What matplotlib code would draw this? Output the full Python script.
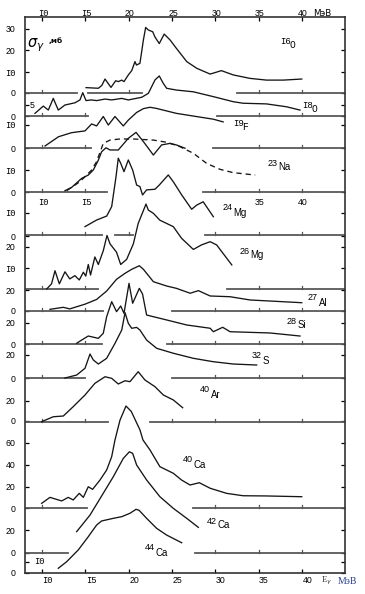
import matplotlib
matplotlib.use("Agg")
import matplotlib.pyplot as plt
import numpy as np

W, H = 365, 594
# ---------------- data (energy MeV, cross-section mb) ----------------
O16_E = [15.08, 16.5, 16.9, 17.27, 17.96, 18.5, 18.8, 19.2, 19.46, 19.96, 20.35, 20.73, 20.9, 21.3, 21.7, 21.96, 22.27, 22.77, 23.04, 23.53, 24.1, 24.77, 25.5, 26.7, 27.85, 29.4, 30.7, 32.07, 34.0, 35.9, 37.84, 39.97]
O16_S = [2.5, 2.2, 3.5, 6.5, 2.6, 5.7, 5.3, 6.0, 5.3, 8.4, 10.4, 14.6, 13.0, 13.8, 24.7, 30.5, 29.3, 28.5, 26.0, 23.0, 27.4, 24.7, 20.8, 14.6, 11.5, 8.8, 10.4, 8.4, 6.8, 6.0, 6.0, 6.5]

O18_E = [9.19, 10.15, 10.73, 11.3, 11.88, 12.65, 13.8, 14.38, 14.7, 15.08, 15.7, 16.3, 17.27, 18.04, 19.2, 19.96, 21.5, 22.27, 23.04, 23.53, 24.0, 24.38, 25.5, 27.46, 29.77, 32.07, 33.2, 35.9, 38.2, 39.77]
O18_S = [1.2, 4.5, 2.7, 8.0, 2.7, 5.0, 6.0, 7.3, 10.6, 7.0, 7.3, 7.0, 7.7, 7.3, 8.0, 7.3, 8.5, 10.3, 16.4, 18.2, 14.8, 12.6, 11.8, 11.0, 8.8, 6.5, 5.8, 5.5, 4.2, 2.7]

F19_E = [10.35, 11.9, 13.4, 14.96, 15.73, 16.3, 17.07, 17.65, 18.42, 19.38, 19.96, 20.92, 21.7, 22.46, 23.2, 25.5, 27.46, 29.77, 30.9]
F19_S = [0.9, 5.0, 6.8, 7.6, 10.7, 9.8, 14.0, 10.2, 14.0, 9.8, 12.4, 15.8, 17.5, 18.1, 17.6, 15.4, 14.2, 12.8, 11.6]

Na23_E = [12.65, 13.42, 14.58, 15.34, 15.92, 16.5, 16.88, 17.38, 17.85, 18.8, 19.96, 20.85, 21.7, 22.85, 23.8, 24.77, 25.5, 26.5]
Na23_S = [0.6, 2.1, 6.2, 7.7, 10.0, 14.5, 18.3, 20.1, 19.1, 19.1, 24.4, 27.1, 22.9, 16.8, 21.4, 22.1, 21.4, 19.9]
Na23b_E = [12.85, 14.38, 15.73, 16.3, 17.07, 17.85, 19.0, 20.54, 22.85, 24.4, 25.92, 27.46, 29.0, 30.54, 32.07, 34.6]
Na23b_S = [0.6, 4.7, 10.0, 13.8, 22.1, 23.6, 24.1, 24.1, 23.6, 22.6, 20.6, 17.6, 13.0, 10.3, 8.8, 7.7]

Mg24_E = [14.96, 16.3, 17.46, 18.04, 18.54, 18.8, 19.08, 19.46, 19.96, 20.46, 20.92, 21.3, 21.6, 22.07, 23.04, 23.53, 24.57, 25.15, 26.12, 27.27, 27.85, 28.6, 29.77]
Mg24_S = [3.8, 6.8, 8.6, 12.9, 26.5, 34.9, 32.6, 28.8, 34.1, 29.5, 22.7, 22.0, 18.2, 20.5, 20.8, 22.7, 27.3, 24.2, 18.2, 11.7, 13.6, 15.1, 8.3]

Mg26_E = [10.54, 11.1, 11.5, 12.0, 12.65, 13.2, 13.8, 14.3, 14.77, 15.05, 15.34, 15.6, 16.1, 16.5, 17.07, 17.5, 17.85, 18.6, 19.08, 19.77, 20.54, 21.1, 22.0, 22.27, 22.85, 23.6, 25.15, 26.1, 27.46, 28.4, 29.4, 30.15, 31.9]
Mg26_S = [0.0, 2.4, 8.5, 2.4, 8.0, 4.7, 6.2, 4.2, 7.8, 6.0, 11.4, 6.5, 14.9, 11.4, 17.8, 24.9, 21.0, 17.1, 11.4, 13.8, 21.0, 30.5, 39.5, 36.7, 35.2, 32.0, 29.0, 23.6, 18.4, 20.5, 22.0, 20.5, 11.2]

Al27_E = [10.92, 12.46, 13.2, 14.96, 16.3, 16.88, 17.46, 18.6, 19.58, 20.35, 21.23, 21.7, 22.85, 24.38, 25.5, 27.1, 28.04, 29.4, 31.7, 34.0, 36.3, 39.97]
Al27_S = [1.6, 3.5, 2.0, 6.5, 11.0, 15.0, 19.0, 30.2, 35.9, 39.7, 43.1, 39.7, 27.9, 23.8, 21.6, 16.9, 19.4, 14.3, 13.6, 10.5, 9.5, 7.9]

Si28_E = [14.0, 14.58, 15.34, 16.5, 17.07, 17.46, 18.04, 18.6, 19.08, 19.46, 20.04, 20.46, 21.23, 21.6, 22.07, 22.85, 24.38, 26.7, 29.4, 29.77, 30.85, 31.7, 34.0, 36.3, 39.77]
Si28_S = [0.7, 3.8, 7.6, 5.4, 10.2, 26.0, 40.3, 30.8, 36.2, 29.2, 57.8, 38.8, 53.0, 47.6, 27.6, 26.0, 22.9, 18.1, 15.0, 11.7, 15.9, 11.7, 11.1, 10.5, 7.6]

S32_E = [12.65, 14.0, 14.96, 15.54, 15.92, 16.5, 17.46, 18.42, 19.2, 19.58, 19.96, 20.35, 20.92, 21.3, 22.07, 23.23, 25.15, 27.46, 29.77, 32.07, 34.77]
S32_S = [0.0, 2.7, 8.8, 21.8, 16.4, 12.7, 17.9, 31.5, 43.6, 59.4, 49.7, 45.2, 46.0, 43.6, 34.5, 27.0, 22.5, 17.9, 14.8, 12.7, 11.8]

Ar40_E = [9.96, 11.3, 12.46, 13.6, 14.96, 16.1, 17.27, 18.04, 18.8, 19.58, 20.15, 21.1, 21.88, 23.04, 24.0, 25.15, 26.23]
Ar40_S = [0.3, 5.0, 5.7, 14.6, 25.7, 36.8, 43.1, 41.6, 36.2, 39.3, 38.4, 47.9, 40.0, 33.6, 25.7, 21.0, 13.6]

Ca40_E = [9.96, 10.92, 12.27, 13.03, 13.6, 14.3, 14.77, 15.34, 15.84, 16.69, 17.46, 18.04, 18.42, 19.0, 19.69, 20.3, 21.3, 21.65, 22.46, 23.6, 25.15, 26.1, 27.08, 28.15, 29.4, 31.3, 33.2, 35.9, 39.97]
Ca40_S = [4.3, 9.8, 6.5, 9.8, 7.4, 13.5, 9.8, 19.6, 17.2, 25.8, 35.0, 47.3, 62.7, 81.0, 94.0, 89.0, 72.0, 62.7, 53.5, 38.1, 32.0, 25.8, 21.2, 23.3, 18.2, 13.5, 11.3, 11.1, 10.4]

Ca42_E = [14.0, 15.54, 17.07, 18.23, 19.38, 20.08, 20.46, 20.92, 22.07, 23.6, 25.15, 26.7, 28.04]
Ca42_S = [19.4, 34.5, 54.3, 69.4, 86.0, 92.0, 90.6, 80.0, 66.4, 51.2, 40.6, 31.5, 23.3]

Ca44_E = [11.88, 12.85, 14.19, 15.34, 16.3, 16.88, 18.23, 19.2, 20.15, 20.85, 21.2, 22.07, 23.23, 24.38, 26.12]
Ca44_S = [4.3, 10.3, 21.0, 33.0, 43.6, 47.3, 49.7, 51.2, 54.3, 57.9, 57.0, 49.7, 40.6, 34.5, 27.5]

x_ticks = [10, 15, 20, 25, 30, 35, 40]
x_labels = ["I0", "I5", "20", "25", "30", "35", "40"]
y_tick_rows = [29, 50, 72, 93, 105, 116, 125, 148, 170, 192, 213, 236, 247, 268, 290, 311,
               323, 344, 355, 378, 401, 421, 443, 465, 487, 508, 530, 553, 562, 573]
y_tick_labels = ["30", "20", "I0", "0", "", "0", "I0", "0", "I0", "0", "I0", "0", "20", "I0", "20", "0",
                 "20", "0", "20", "0", "20", "0", "60", "40", "20", "0", "20", "0", "", "0"]

# ---------------- layout ----------------
def e_of_px(px):
    return 10 + (px - 42) / 8.667

def px_of_e(e):
    return 42 + (e - 10) * 8.667

def F(px, py):
    return px / W, 1 - py / H

def fam(s):
    return "Liberation Mono" if s.startswith("I") else "Liberation Sans"

fig = plt.figure(figsize=(W / 100, H / 100), dpi=100)
ax = fig.add_axes([25 / W, 1 - 573 / H, 320 / W, 556 / H])
ax.set_xlim(e_of_px(25), e_of_px(345))
ax.set_ylim(573, 17)

CURVE = dict(color="#151515", lw=0.95, solid_joinstyle="round")
BASE = dict(color="#585858", lw=1.3)

# (E, S, baseline row, px per mb, baseline segments in px)
panels = [
    (O16_E, O16_S, 93, 2.15, [(25, 77), (88, 142), (237, 345)]),
    (O18_E, O18_S, 116, 2.2, [(25, 88), (217, 345)]),
    (F19_E, F19_S, 148, 2.25, [(25, 91), (213, 345)]),
    (Na23_E, Na23_S, 192, 2.2, [(25, 107), (203, 345)]),
    (Mg24_E, Mg24_S, 235, 2.2, [(25, 102), (115, 133), (205, 345)]),
    (Mg26_E, Mg26_S, 289, 2.15, [(25, 98), (227, 345)]),
    (Al27_E, Al27_S, 311, 1.05, [(25, 103), (172, 345)]),
    (Si28_E, Si28_S, 344, 1.05, [(25, 102), (167, 345)]),
    (S32_E, S32_S, 378, 1.1, [(25, 85), (172, 345)]),
    (Ar40_E, Ar40_S, 422, 1.05, [(25, 108), (150, 345)]),
    (Ca40_E, Ca40_S, 508, 1.085, [(25, 87), (193, 345)]),
    (Ca42_E, Ca42_S, 553, 1.1, [(25, 68), (195, 345)]),
    (Ca44_E, Ca44_S, 573, 1.1, []),
]

for E, S, base, k, segs in panels:
    ax.plot(E, base - np.asarray(S) * k, **CURVE, zorder=3)
    for a, b in segs:
        ea, eb = e_of_px(a), e_of_px(b)
        ax.plot([ea, eb], [base, base], **BASE, zorder=2)
        for t in x_ticks:
            if ea + 0.3 < t < eb - 0.3:
                ax.plot([t, t], [base, base - 3], color="#555555", lw=0.9, zorder=2)

# dashed 23Na curve
ax.plot(Na23b_E, 192 - np.asarray(Na23b_S) * 2.2, color="#151515", lw=0.95,
        linestyle=(0, (4, 3)), zorder=3)

# ---------------- axes & ticks ----------------
for sp in ax.spines.values():
    sp.set_linewidth(1.2)
    sp.set_color("#333333")

ax.set_xticks(x_ticks)
ax.set_xticklabels([])
ax.set_yticks(y_tick_rows)
ax.set_yticklabels(y_tick_labels)
ax.tick_params(axis="x", direction="in", top=True, bottom=True, labeltop=False,
               labelbottom=False, length=3, width=0.9)
ax.tick_params(axis="y", direction="in", left=True, right=True, length=3,
               width=0.9, labelsize=6.3, pad=7)
for lbl in ax.get_yticklabels():
    lbl.set_fontfamily(fam(lbl.get_text()))

# top and bottom x labels
for t, lab in zip(x_ticks, x_labels):
    fig.text(*F(px_of_e(t) + 1, 13.5), lab, fontsize=6.3, family=fam(lab),
             ha="center", va="center")
    fig.text(*F(px_of_e(t) + 0.5, 580.5), lab, fontsize=6.3, family=fam(lab),
             ha="left", va="center")

# inside labels on the left
fig.text(*F(30, 105), "5", fontsize=6.3, family="Liberation Sans", va="center", ha="left")
fig.text(*F(34, 562), "I0", fontsize=6.3, family="Liberation Mono", va="center", ha="left")

# inner x labels row below 23Na baseline
for t, lab in [(10, "I0"), (15, "I5"), (35, "35"), (40, "40")]:
    fig.text(*F(px_of_e(t) + 1, 203), lab, fontsize=6.3, family=fam(lab),
             ha="center", va="center")

# unit texts
fig.text(*F(313, 13.5), "МэВ", fontsize=6.3, family="DejaVu Sans", ha="left", va="center")
fig.text(*F(321, 581), r"E$_\gamma$", fontsize=6.3, family="Liberation Serif", ha="left", va="center",
         color="#333333")
fig.text(*F(338, 581), "МэВ", fontsize=7, family="Liberation Serif", ha="left", va="center",
         color="#2b3f8f")
fig.text(*F(27, 45), r"$\sigma_\gamma$", fontsize=10.5, ha="left", va="center")
fig.text(*F(49, 41), ",мб", fontsize=5.3, ha="left", va="center", weight="bold")

# nucleus labels
labels = [("I6", "O", 280, 43), ("I8", "O", 302, 107), ("I9", "F", 233, 125),
          ("23", "Na", 268, 165), ("24", "Mg", 223, 210), ("26", "Mg", 240, 253),
          ("27", "Al", 308, 300), ("28", "Si", 287, 323), ("32", "S", 252, 358),
          ("40", "Ar", 200, 392), ("40", "Ca", 183, 462), ("42", "Ca", 207, 523),
          ("44", "Ca", 145, 550)]
for a, sym, px, py in labels:
    fig.text(*F(px, py - 2), a, fontsize=6.5, family=fam(a), ha="left", va="center")
    w = (4.6 if a.startswith("I") else 5.2) * len(a) + 0.3
    fig.text(*F(px + w, py + 2.5), sym, fontsize=6.9, family=fam(a), ha="left", va="center")

fig.savefig("out.png", dpi=100)
